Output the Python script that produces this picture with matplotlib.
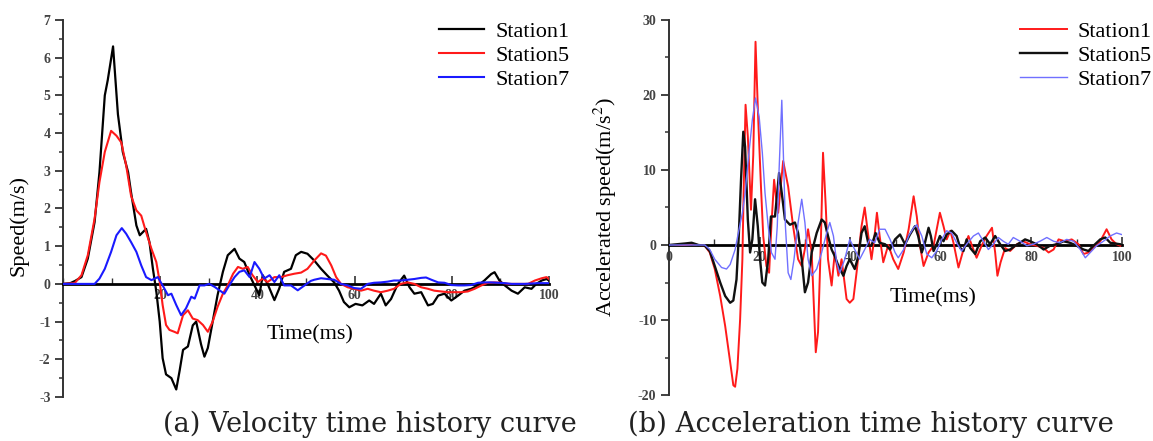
import matplotlib
matplotlib.use("Agg")
import matplotlib.pyplot as plt
from matplotlib.ticker import MultipleLocator

plt.rcParams['font.family'] = ['Liberation Serif', 'DejaVu Serif']
plt.rcParams['mathtext.fontset'] = 'stix'
plt.rcParams['axes.unicode_minus'] = False

# ---------------- data (time ms, value) ----------------
vel_station1 = [(0,0),(1.5,0.02),(2.5,0.08),(3.8,0.18),(5.1,0.67),(6.5,1.64),(7.5,2.96),(8.6,5.0),(9.2,5.4),
    (10.3,6.3),(11.3,4.5),(12.3,3.5),(13.4,2.96),(14,2.43),(15.1,1.55),(15.8,1.29),(17.1,1.46),(17.8,1.1),
    (18.5,0.4),(19.2,-0.2),(19.9,-1.0),(20.5,-1.97),(21.2,-2.4),(22.3,-2.5),(23.3,-2.8),(24,-2.3),(24.7,-1.75),
    (25.7,-1.66),(26.7,-1.1),(27.4,-1.0),(28.4,-1.6),(29.1,-1.93),(29.8,-1.7),(30.8,-1.0),(31.8,-0.3),(32.9,0.32),
    (33.9,0.76),(35.3,0.93),(36.3,0.67),(37.3,0.58),(38.4,0.23),(39.4,-0.04),(40.4,-0.3),(41.1,0.23),(42.1,0.0),
    (43.5,-0.43),(44.5,-0.12),(45.5,0.32),(46.9,0.4),(47.9,0.76),(49,0.85),(50.3,0.8),(51.7,0.62),(53.1,0.4),
    (54.4,0.22),(55.8,0.04),(56.8,-0.18),(57.8,-0.48),(58.9,-0.62),(60.2,-0.53),(61.6,-0.57),(63,-0.44),(64,-0.53),
    (65.4,-0.26),(66.4,-0.57),(67.5,-0.4),(68.9,0),(70.2,0.22),(71.3,-0.09),(72.3,-0.26),(73.7,-0.22),(75.1,-0.57),
    (76.1,-0.53),(77.2,-0.31),(78.5,-0.26),(79.9,-0.44),(81.3,-0.31),(82.6,-0.18),(84,-0.13),(85.4,-0.04),
    (86.7,0.09),(88.1,0.26),(88.8,0.31),(89.8,0.09),(90.9,-0.04),(92.3,-0.18),(93.6,-0.26),(95,-0.09),(96.4,-0.13),
    (97.4,0),(98.5,0.09),(99.5,0.13),(100,0.09)]

vel_station5 = [(0,0),(2.4,0.02),(3.8,0.23),(5.1,0.76),(6.5,1.73),(7.5,2.7),(8.6,3.5),(9.9,4.06),(11,3.93),
    (12,3.75),(13,3.14),(14,2.34),(15.1,1.95),(16.1,1.81),(17.1,1.37),(18.2,0.93),(19.2,0.58),(19.9,0.05),
    (20.5,-0.56),(21.2,-1.09),(21.9,-1.22),(22.9,-1.27),(23.6,-1.31),(24.7,-0.83),(25.7,-0.7),(26.7,-0.92),
    (27.7,-0.96),(28.8,-1.09),(29.8,-1.27),(30.8,-1.0),(31.8,-0.61),(32.9,-0.26),(33.9,-0.04),(35,0.27),(36,0.45),
    (37,0.4),(38,0.45),(39,0.23),(40.1,0.05),(41.1,0.14),(42.1,0.05),(43.5,0.18),(44.9,0.18),(46.2,0.23),
    (47.6,0.27),(49,0.3),(50.3,0.4),(51.7,0.62),(53.1,0.81),(54.1,0.75),(55.2,0.49),(56.2,0.18),(57.2,0),
    (58.6,-0.09),(59.9,-0.13),(61.3,-0.18),(62.7,-0.13),(64,-0.18),(65.4,-0.22),(66.8,-0.18),(68.1,-0.13),
    (69.5,0),(70.9,0.04),(72.3,0),(73.7,-0.09),(75.1,-0.13),(76.4,-0.18),(77.8,-0.2),(79.2,-0.22),(80.6,-0.22),
    (81.9,-0.22),(83.3,-0.2),(84.7,-0.13),(86.1,-0.04),(87.4,0.03),(88.8,0.04),(90.2,0.03),(91.6,0),(92.9,0),
    (94.3,0),(95.7,0),(97.1,0.09),(98.5,0.15),(99.5,0.18),(100,0.13)]

vel_station7 = [(0,0),(6.5,0),(7.5,0.14),(8.6,0.4),(9.9,0.85),(11,1.29),(12.1,1.48),(13,1.33),(14,1.11),
    (15.1,0.85),(16.1,0.49),(17.1,0.18),(18.2,0.1),(19.5,0.18),(20.5,-0.04),(21.6,-0.3),(22.3,-0.26),(23.3,-0.56),
    (24.3,-0.83),(25.3,-0.65),(26.4,-0.34),(27.1,-0.39),(28.1,-0.04),(29.1,-0.04),(30.1,0),(31.2,-0.08),
    (32.2,-0.17),(33.2,-0.26),(34.2,-0.04),(35.3,0.18),(36.3,0.32),(37.3,0.36),(38.4,0.18),(39.4,0.58),(40.4,0.4),
    (41.4,0.14),(42.5,0.23),(43.5,0.05),(44.5,0.23),(45.5,-0.04),(46.9,-0.04),(48.3,-0.17),(49.7,-0.04),(51,0.08),
    (51.7,0.11),(53.1,0.15),(54.4,0.13),(55.8,0.11),(57.2,0),(58.6,-0.04),(59.9,-0.11),(61.3,-0.13),(62.7,0),
    (64,0.03),(65.4,0.04),(66.8,0.06),(68.1,0.09),(69.5,0.09),(70.9,0.11),(72.3,0.13),(73.7,0.16),(74.7,0.17),
    (75.8,0.11),(77.2,0.04),(78.5,0.03),(79.9,-0.03),(81.3,-0.04),(82.6,-0.04),(84,-0.03),(85.4,0.03),(86.7,0.04),
    (88.1,0.04),(89.5,0.03),(90.9,0.02),(92.3,0),(95,0),(97.7,0.02),(100,0.02)]

acc_station1 = [(0,0),(3.5,0),(5,0.1),(6.5,0),(7.9,-0.1),(9,-1.0),(10.1,-3.2),(11.3,-6.8),(12.4,-10.8),
    (13.5,-15.6),(14.2,-18.7),(14.6,-18.9),(15.1,-16.5),(15.7,-9.9),(16.2,-1.9),(16.5,7.8),(16.9,18.7),(17.4,14.5),
    (18.1,4.7),(18.6,12),(19.1,27.1),(19.7,16.7),(20.3,7.8),(20.8,1.2),(21.5,-2.8),(22.1,-3.7),(22.6,2.5),
    (23.2,8.7),(23.6,6.5),(24.1,4.3),(25.2,11.2),(26.3,7.8),(27.4,2.5),(28.5,-1.9),(29.3,-2.8),(30,-0.5),
    (30.7,2.1),(31.5,-1.0),(32.4,-14.3),(32.9,-11.6),(33.5,-0.1),(34,12.3),(34.6,5.2),(35.1,-1.9),(35.9,-5.4),
    (36.6,-1.0),(37.4,-4.1),(38.1,-1.9),(39.2,-7.2),(39.9,-7.7),(40.7,-7.2),(41.4,-3.7),(42.5,2.5),(43.2,5.0),
    (44,1.2),(44.7,-1.9),(45.3,0.8),(45.9,4.3),(46.5,1.2),(47.3,-2.3),(48.4,0),(49.5,-1.9),(50.6,-3.2),
    (51.8,-1.0),(52.9,2.1),(54,6.5),(54.7,3.8),(55.4,-0.1),(56.2,-2.8),(57.3,-1.0),(58.4,-0.1),(59.1,2.1),
    (59.8,4.3),(60.6,2.5),(61.3,0.75),(62.1,1.9),(62.8,0.3),(63.9,-3.0),(65,-0.6),(66.1,1.2),(67.2,-0.6),
    (67.9,-1.7),(69,-0.1),(70.1,1.2),(71.3,2.3),(72,-1.0),(72.5,-4.1),(73.2,-2.3),(74.2,-0.4),(75.3,-0.8),
    (76.8,0.1),(78.2,0.5),(79.7,0.1),(81.2,-0.1),(82.7,-0.4),(83.8,-1.0),(84.9,-0.6),(86,0.75),(87.4,0.5),
    (88.9,0.75),(90.4,0.1),(91.5,-1.2),(92.6,-1.0),(93.7,-0.4),(95.2,0.5),(96.6,2.1),(97.7,0.75),(98.8,0.1),
    (99.6,-0.1)]

acc_station5 = [(0,0),(3.5,0.2),(5,0.3),(6.5,0),(7.9,-0.1),(9,-0.8),(10.1,-2.8),(11.3,-5.0),(12.4,-6.8),
    (13.5,-7.7),(14.2,-7.4),(14.9,-4.6),(15.4,1.2),(15.9,8.7),(16.4,15.1),(16.8,13.1),(17.4,3.4),(17.9,-1.0),
    (18.4,0.75),(19,6.1),(19.6,2.5),(20.1,-1.9),(20.6,-5.0),(21.2,-5.4),(21.9,-1.9),(22.5,3.8),(23.4,3.8),
    (24.3,9.6),(24.9,6.9),(25.6,3.4),(26.7,2.7),(27.8,3.0),(28.5,1.6),(29.3,-1.9),(30,-6.3),(30.7,-5.0),
    (31.5,-1.0),(32.6,1.6),(33.7,3.4),(34.4,3.0),(35.1,1.2),(35.9,-0.6),(36.6,-1.5),(37.4,-2.8),(38.5,-4.1),
    (39.2,-2.8),(39.9,-1.9),(41,-3.2),(41.8,-1.5),(42.5,1.6),(43.2,2.5),(44.1,-0.1),(44.7,-0.1),(45.6,1.6),
    (46.5,0.3),(47.7,0.1),(48.8,-0.6),(49.9,0.75),(51,1.4),(52.1,0.1),(53.2,1.4),(54.3,2.5),(55,1.2),(55.8,-1.0),
    (56.5,0.3),(57.3,2.3),(57.8,1.2),(58.4,-0.8),(59.1,0.1),(59.8,1.2),(60.6,0.5),(61.3,1.4),(62.4,1.9),
    (63.5,1.2),(64.3,-0.4),(65,-0.8),(65.7,0.75),(66.5,-0.4),(67.6,-1.2),(68.7,0.5),(69.8,1.0),(70.9,0.1),
    (72,1.2),(73.1,0.1),(74.2,-0.8),(75.3,-0.6),(76.4,-0.1),(77.5,0.3),(78.6,0.75),(79.7,0.5),(81.2,0.1),
    (82.7,-0.6),(84.1,-0.1),(85.6,0.1),(87.1,0.5),(88.5,0.3),(90,-0.1),(91.5,-0.6),(92.6,-0.8),(93.7,-0.1),
    (95.2,0.75),(96.3,1.0),(97.4,0.3),(98.5,0.2),(99.6,0.1)]

acc_station7 = [(0,0),(7.9,0),(9,-0.6),(10.1,-1.9),(11.6,-3.0),(12.7,-3.2),(13.5,-2.6),(14.6,-0.6),(15.3,1.6),
    (16.2,4.3),(16.8,6.9),(17.5,11.4),(18.4,16.7),(19.1,19.6),(19.9,17.1),(20.6,12.3),(21.2,6.9),(21.9,2.5),
    (22.6,-1.0),(23.4,-1.9),(23.9,2.5),(24.3,10),(24.9,19.3),(25.2,13.1),(25.7,2.5),(26.3,-3.7),(26.9,-4.6),
    (27.6,-1.9),(28.5,3.0),(29.3,6.1),(30,3.0),(30.7,-1.9),(31.5,-4.1),(32.6,-3.2),(33.7,-1.0),(34.8,1.6),
    (35.5,3.0),(36.3,1.2),(37,-2.3),(37.7,-3.7),(38.8,-1.9),(39.9,0.75),(41,-0.6),(42.1,-1.9),(43.2,-0.6),
    (44.3,0.75),(45.4,0.3),(46.5,2.1),(47.7,2.1),(48.8,0.75),(49.9,-1.0),(50.6,-1.7),(51.8,-0.6),(52.9,1.2),
    (54,2.3),(54.7,2.7),(55.8,1.2),(56.9,-1.2),(58,-1.7),(59.1,-0.8),(60.2,0.75),(61.3,1.9),(62.4,1.6),
    (63.5,0.3),(64.6,-0.8),(65.7,0.1),(67.2,1.2),(68.3,1.6),(69.4,0.5),(70.5,-0.6),(71.6,0.1),(72.7,1.0),
    (73.8,0.5),(74.9,0.1),(76,1.0),(77.5,0.5),(79,-0.1),(80.4,0.1),(81.9,0.5),(83.4,1.0),(84.9,0.5),(86.3,0.3),
    (87.8,0.75),(89.3,0.5),(90.8,-0.6),(91.9,-1.7),(93,-1.0),(94.4,-0.1),(95.9,0.5),(97.4,1.2),(98.8,1.6),
    (99.9,1.4)]

vel_labels = ["Station1", "Station5", "Station7"]
acc_labels = ["Station1", "Station5", "Station7"]
vel_yticks = [-3, -2, -1, 0, 1, 2, 3, 4, 5, 6, 7]
acc_yticks = [-20, -10, 0, 10, 20, 30]
left_xticks = [20, 40, 60, 80, 100]
right_xticks = [0, 20, 40, 60, 80, 100]
captions = ["(a) Velocity time history curve", "(b) Acceleration time history curve"]

W, H = 1153, 441
fig = plt.figure(figsize=(W / 100, H / 100), dpi=100)

ax1 = fig.add_axes([63 / W, 1 - 397 / H, 486 / W, 377 / H])
ax2 = fig.add_axes([669 / W, 1 - 395 / H, 453 / W, 375 / H])


def unzip(pairs):
    return [p[0] for p in pairs], [p[1] for p in pairs]


def style(ax, ylim, yticks, ymin, xticks):
    ax.set_xlim(0, 100)
    ax.set_ylim(*ylim)
    ax.set_yticks(yticks)
    ax.yaxis.set_minor_locator(MultipleLocator(ymin))
    ax.set_xticks(xticks)
    ax.xaxis.set_minor_locator(MultipleLocator(10))
    for s in ("top", "right"):
        ax.spines[s].set_visible(False)
    ax.spines["left"].set_linewidth(1.4)
    ax.spines["left"].set_color("#333333")
    ax.spines["bottom"].set_position(("data", 0))
    ax.spines["bottom"].set_linewidth(2.0)
    ax.spines["bottom"].set_color("black")
    ax.tick_params(axis="y", which="major", direction="out", length=6, width=1.3,
                   colors="#333333", labelsize=10, pad=3)
    ax.tick_params(axis="y", which="minor", direction="out", length=3, width=1.1, colors="#333333")
    ax.tick_params(axis="x", which="major", direction="in", length=6, width=1.2,
                   colors="#333333", labelsize=10, pad=4)
    ax.tick_params(axis="x", which="minor", direction="in", length=4, width=1.0, colors="#333333")
    for lab in ax.get_xticklabels() + ax.get_yticklabels():
        lab.set_fontweight("bold")
        lab.set_color("#444444")


# ---- left: velocity ----
style(ax1, (-3, 7), vel_yticks, 0.5, left_xticks)
for data, col, lw in [(vel_station1, "black", 1.6), (vel_station5, "#ff1a1a", 1.5), (vel_station7, "#1a1aff", 1.5)]:
    t, v = unzip(data)
    ax1.plot(t, v, color=col, lw=lw, zorder=3, solid_joinstyle="round")
ax1.set_ylabel("Speed(m/s)", fontsize=16)
ax1.yaxis.set_label_coords(-0.07, 0.455)
ax1.set_xlabel("Time(ms)", fontsize=16)
ax1.xaxis.set_label_coords(0.508, 0.19)
ax1.legend(ax1.lines, vel_labels, loc="upper right", bbox_to_anchor=(570 / W, 1 - 21 / H),
           bbox_transform=fig.transFigure, frameon=False, fontsize=16, handlelength=2.0,
           handletextpad=0.55, labelspacing=0.17, borderpad=0, borderaxespad=0)

# ---- right: acceleration ----
style(ax2, (-20, 30), acc_yticks, 5, right_xticks)
for data, col, lw in [(acc_station1, "#ff1a1a", 1.4), (acc_station5, "#111111", 1.7), (acc_station7, "#7070ff", 1.0)]:
    t, v = unzip(data)
    ax2.plot(t, v, color=col, lw=lw, zorder=3, solid_joinstyle="round")
ax2.set_ylabel(r"Accelerated speed(m/s$^{2}$)", fontsize=16)
ax2.yaxis.set_label_coords(-0.11, 0.5)
ax2.set_xlabel("Time(ms)", fontsize=16)
ax2.xaxis.set_label_coords(0.583, 0.285)
ax2.legend(ax2.lines, acc_labels, loc="upper right", bbox_to_anchor=(1152 / W, 1 - 21 / H),
           bbox_transform=fig.transFigure, frameon=False, fontsize=16, handlelength=2.1,
           handletextpad=0.5, labelspacing=0.17, borderpad=0, borderaxespad=0)

fig.text(370 / W, 1 - 424 / H, captions[0], ha="center", va="center", fontsize=19.5,
         family="DejaVu Serif", color="#222222")
fig.text(871 / W, 1 - 424 / H, captions[1], ha="center", va="center", fontsize=19.8,
         family="DejaVu Serif", color="#222222")

fig.savefig("out.png", dpi=100)
